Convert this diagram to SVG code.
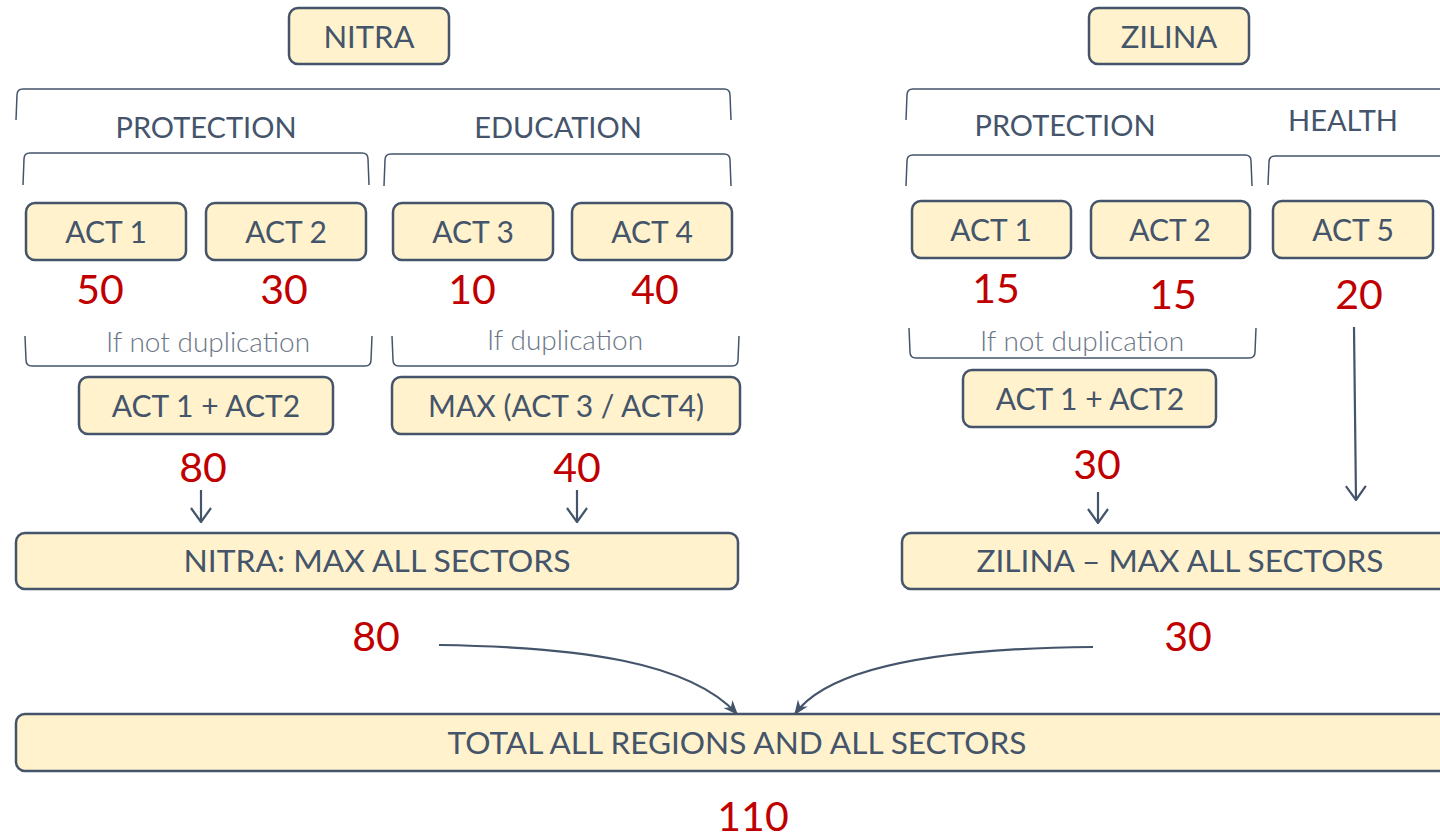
<svg xmlns="http://www.w3.org/2000/svg" width="1440" height="840" viewBox="0 0 1440 840">
<defs>
<style>
.box{fill:#FFF2CC;stroke:#44546A;stroke-width:2.5}
.t{font-family:Lato,"Open Sans","Liberation Sans",sans-serif;fill:#44546A;text-anchor:middle}
.lbl{font-size:30px}
.hd{font-size:31px}
.sec{font-size:29px}
.note{font-size:28px;font-weight:300;fill:#6B7686}
.num{font-family:Lato,"Open Sans","Liberation Sans",sans-serif;fill:#C00000;font-size:41px;text-anchor:middle}
.br{fill:none;stroke:#44546A;stroke-width:1.5}
.ln{fill:none;stroke:#44546A;stroke-width:2.2}
</style>
<marker id="chev" viewBox="0 0 16 22" refX="15" refY="11" markerWidth="16" markerHeight="22" markerUnits="userSpaceOnUse" orient="auto">
<path d="M1,1 L15,11 L1,21" fill="none" stroke="#44546A" stroke-width="2.2"/>
</marker>
<marker id="tri" viewBox="0 0 10 10" refX="9" refY="5" markerWidth="15" markerHeight="15" markerUnits="userSpaceOnUse" orient="auto">
<path d="M0,1 L10,5 L0,9 L3,5 Z" fill="#44546A"/>
</marker>
</defs>
<rect width="1440" height="840" fill="#FFFFFF"/>

<g id="brackets">
<path class="br" d="M16,120 L17,95 Q17,89 23,89 L724,89 Q730,89 730,95 L731,120"/>
<path class="br" d="M23,185 L24,159 Q24,153 30,153 L362,153 Q368,153 368,159 L369,185"/>
<path class="br" d="M384,186 L385,160 Q385,154 391,154 L724,154 Q730,154 730,160 L731,186"/>
<path class="br" d="M25,336 L26,360 Q26,366 32,366 L365,366 Q371,366 371,360 L372,336"/>
<path class="br" d="M392,336 L393,360 Q393,366 399,366 L732,366 Q738,366 738,360 L739,336"/>
<path class="br" d="M906,120 L907,95 Q907,89 913,89 L1450,89"/>
<path class="br" d="M906,186 L907,161 Q907,155 913,155 L1245,155 Q1251,155 1251,161 L1252,186"/>
<path class="br" d="M1268,185 L1269,162 Q1269,156 1275,156 L1450,156"/>
<path class="br" d="M909,328 L910,352 Q910,358 916,358 L1249,358 Q1255,358 1255,352 L1256,328"/>
</g>
<g id="sector-labels">
<text class="t sec" x="206" y="138">PROTECTION</text>
<text class="t sec" x="558" y="138">EDUCATION</text>
<text class="t sec" x="1065" y="136">PROTECTION</text>
<text class="t sec" x="1343" y="131">HEALTH</text>
<text class="t note" x="208" y="352">If not duplication</text>
<text class="t note" x="565" y="350">If duplication</text>
<text class="t note" x="1082" y="351">If not duplication</text>
</g>

<g id="nitra"><rect class="box" x="289" y="8" width="160" height="56" rx="9"/><text class="t hd" x="369" y="48">NITRA</text></g>
<g id="zilina"><rect class="box" x="1089" y="8" width="160" height="56" rx="9"/><text class="t hd" x="1169" y="48">ZILINA</text></g>

<g id="n-act1"><rect class="box" x="26" y="203" width="160" height="57" rx="9"/><text class="t lbl" x="106" y="243">ACT 1</text></g>
<g id="n-act2"><rect class="box" x="206" y="203" width="160" height="57" rx="9"/><text class="t lbl" x="286" y="243">ACT 2</text></g>
<g id="n-act3"><rect class="box" x="393" y="203" width="160" height="57" rx="9"/><text class="t lbl" x="473" y="243">ACT 3</text></g>
<g id="n-act4"><rect class="box" x="572" y="203" width="160" height="57" rx="9"/><text class="t lbl" x="652" y="243">ACT 4</text></g>
<g id="z-act1"><rect class="box" x="912" y="201" width="159" height="57" rx="9"/><text class="t lbl" x="991" y="241">ACT 1</text></g>
<g id="z-act2"><rect class="box" x="1091" y="201" width="159" height="57" rx="9"/><text class="t lbl" x="1170" y="241">ACT 2</text></g>
<g id="z-act5"><rect class="box" x="1273" y="201" width="160" height="57" rx="9"/><text class="t lbl" x="1353" y="241">ACT 5</text></g>

<g id="values">
<text class="num" x="100" y="304">50</text>
<text class="num" x="284" y="304">30</text>
<text class="num" x="472" y="304">10</text>
<text class="num" x="655" y="304">40</text>
<text class="num" x="996" y="303">15</text>
<text class="num" x="1173" y="309">15</text>
<text class="num" x="1359" y="309">20</text>
<text class="num" x="203" y="482">80</text>
<text class="num" x="577" y="482">40</text>
<text class="num" x="1097" y="479">30</text>
<text class="num" x="376" y="651">80</text>
<text class="num" x="1188" y="651">30</text>
<text class="num" x="753" y="831">110</text>
</g>

<g id="n-sum"><rect class="box" x="79" y="377" width="254" height="57" rx="9"/><text class="t lbl" x="206" y="417">ACT 1 + ACT2</text></g>
<g id="n-max"><rect class="box" x="392" y="377" width="348" height="57" rx="9"/><text class="t lbl" x="566" y="417">MAX (ACT 3 / ACT4)</text></g>
<g id="z-sum"><rect class="box" x="963" y="370" width="253" height="57" rx="9"/><text class="t lbl" x="1090" y="410">ACT 1 + ACT2</text></g>

<g id="nitra-max"><rect class="box" x="16" y="533" width="722" height="56" rx="9"/><text class="t lbl" x="377" y="572" textLength="387" lengthAdjust="spacingAndGlyphs">NITRA: MAX ALL SECTORS</text></g>
<g id="zilina-max"><rect class="box" x="902" y="533" width="560" height="56" rx="9"/><text class="t lbl" x="1180" y="572" textLength="407" lengthAdjust="spacingAndGlyphs">ZILINA – MAX ALL SECTORS</text></g>
<g id="total"><rect class="box" x="16" y="714" width="1446" height="57" rx="9"/><text class="t lbl" x="737" y="754" textLength="579" lengthAdjust="spacingAndGlyphs">TOTAL ALL REGIONS AND ALL SECTORS</text></g>

<g id="connectors">
<path class="ln" d="M201,490 L201,522" marker-end="url(#chev)"/>
<path class="ln" d="M577,490 L577,522" marker-end="url(#chev)"/>
<path class="ln" d="M1098,492 L1098,523" marker-end="url(#chev)"/>
<path class="ln" d="M1354,327 L1356,500" marker-end="url(#chev)"/>
<path class="ln" d="M439,645 C580,647 690,662 737,714" marker-end="url(#tri)"/>
<path class="ln" d="M1093,647 C950,648 830,665 795,714" marker-end="url(#tri)"/>
</g>
</svg>
